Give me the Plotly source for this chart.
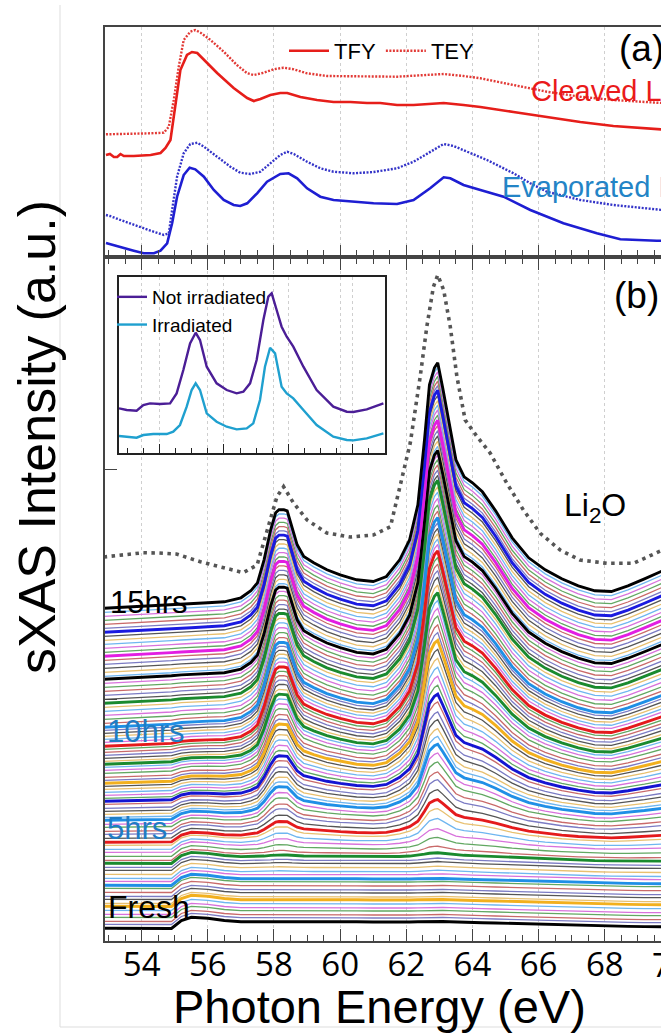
import plotly.graph_objects as go

# ---------------- panel (a) data ----------------
E_tfy_cl = [52.92, 53.04, 53.16, 53.26, 53.36, 53.46, 53.76, 54.27, 54.57, 54.72, 54.87, 55.02, 55.17, 55.37,
            55.52, 55.68, 55.88, 56.28, 56.78, 57.19, 57.39, 57.59, 57.89, 58.19, 58.40, 58.80, 59.30, 59.80,
            60.31, 60.81, 61.21, 61.72, 62.22, 62.72, 63.13, 63.73, 64.24, 65.24, 66.25, 67.26, 68.26, 69.57, 69.75]
I_tfy_cl = [1.00, 1.01, 0.98, 0.98, 1.01, 0.99, 0.99, 1.00, 1.02, 1.07, 1.15, 1.52, 1.85, 2.00,
            2.03, 2.02, 1.95, 1.82, 1.67, 1.57, 1.54, 1.56, 1.60, 1.62, 1.62, 1.58, 1.55, 1.53,
            1.53, 1.52, 1.52, 1.50, 1.50, 1.51, 1.52, 1.50, 1.48, 1.43, 1.38, 1.33, 1.29, 1.26, 1.255]

E_tey_cl = [52.92, 53.76, 54.27, 54.67, 54.82, 54.97, 55.12, 55.27, 55.47, 55.62, 55.78, 56.08, 56.48, 56.88,
            57.19, 57.39, 57.69, 57.99, 58.29, 58.60, 59.00, 59.60, 60.31, 61.21, 61.72, 62.22, 62.72, 63.13,
            63.73, 64.24, 65.24, 65.74, 66.25, 67.26, 68.26, 69.57, 69.75]
I_tey_cl = [1.207, 1.21, 1.217, 1.223, 1.283, 1.55, 1.883, 2.15, 2.233, 2.25, 2.223, 2.15, 2.033, 1.90,
            1.817, 1.80, 1.823, 1.857, 1.873, 1.857, 1.817, 1.79, 1.79, 1.783, 1.783, 1.793, 1.803, 1.81,
            1.79, 1.767, 1.70, 1.667, 1.633, 1.583, 1.55, 1.523, 1.52]

E_tfy_ev = [52.92, 53.04, 53.36, 53.76, 54.06, 54.37, 54.57, 54.77, 54.92, 55.07, 55.27, 55.45, 55.62, 55.88,
            56.18, 56.48, 56.78, 56.98, 57.19, 57.49, 57.79, 58.19, 58.44, 58.70, 59.00, 59.40, 59.80, 60.41,
            61.01, 61.72, 62.22, 62.72, 63.13, 63.33, 63.73, 64.24, 64.94, 65.75, 66.75, 67.76, 68.47, 69.57, 69.75]
I_tfy_ev = [0.12, 0.11, 0.083, 0.043, 0.017, 0.017, 0.043, 0.117, 0.317, 0.583, 0.80, 0.873, 0.857, 0.783,
            0.65, 0.55, 0.50, 0.49, 0.517, 0.617, 0.733, 0.81, 0.817, 0.767, 0.667, 0.583, 0.55, 0.533,
            0.517, 0.51, 0.55, 0.667, 0.777, 0.767, 0.70, 0.65, 0.583, 0.45, 0.317, 0.217, 0.157, 0.143, 0.143]

E_tey_ev = [52.92, 53.04, 53.36, 53.76, 54.27, 54.67, 54.82, 54.92, 55.07, 55.27, 55.47, 55.68, 55.88, 56.28,
            56.68, 56.98, 57.29, 57.59, 57.89, 58.19, 58.40, 58.60, 59.00, 59.40, 59.80, 60.41, 61.01, 61.72,
            62.22, 62.72, 63.13, 63.43, 63.83, 64.44, 65.24, 65.75, 66.25, 67.26, 68.26, 69.57, 69.75]
I_tey_ev = [0.40, 0.39, 0.35, 0.30, 0.243, 0.20, 0.217, 0.45, 0.783, 1.017, 1.11, 1.123, 1.083, 0.983,
            0.883, 0.823, 0.81, 0.833, 0.917, 1.00, 1.033, 1.01, 0.933, 0.867, 0.833, 0.817, 0.83, 0.867,
            0.933, 1.033, 1.11, 1.09, 1.033, 0.95, 0.817, 0.717, 0.633, 0.55, 0.50, 0.457, 0.45]

# ---------------- inset data ----------------
E_not = [53.44, 53.92, 54.54, 54.96, 55.38, 56.0, 56.63, 57.04, 57.46, 57.88, 58.23, 58.5, 58.92, 59.54, 60.17,
         60.79, 61.21, 61.63, 62.04, 62.46, 62.77, 62.98, 63.29, 63.6, 63.92, 64.33, 64.96, 65.79, 66.83, 67.67,
         68.08, 68.92, 69.96]
I_not = [1.33, 1.28, 1.26, 1.43, 1.48, 1.46, 1.48, 1.78, 2.48, 3.28, 3.60, 3.38, 2.58, 2.08, 1.88,
         1.78, 1.83, 2.08, 2.78, 3.98, 4.68, 4.78, 4.28, 3.78, 3.48, 3.18, 2.58, 1.88, 1.38, 1.23,
         1.22, 1.30, 1.48]
E_irr = [53.44, 53.92, 54.54, 54.96, 55.58, 56.42, 56.83, 57.25, 57.67, 57.98, 58.23, 58.5, 58.92, 59.54, 60.17,
         60.79, 61.42, 61.83, 62.25, 62.56, 62.88, 63.19, 63.6, 63.92, 64.33, 64.96, 65.79, 66.83, 67.67, 68.08,
         68.92, 69.96]
I_irr = [0.50, 0.48, 0.45, 0.53, 0.56, 0.56, 0.63, 0.83, 1.38, 1.88, 2.08, 1.88, 1.18, 0.93, 0.78,
         0.70, 0.73, 0.88, 1.58, 2.58, 3.15, 2.98, 1.98, 1.78, 1.63, 1.28, 0.83, 0.48, 0.38, 0.37,
         0.43, 0.58]

# ---------------- panel (b) data ----------------
E_b = [52.85, 53.5, 54.0, 54.5, 54.9, 55.2, 55.5, 56.0, 56.5, 57.0, 57.3, 57.5, 57.7, 57.9, 58.05, 58.15, 58.3,
       58.4, 58.55, 58.7, 58.9, 59.2, 59.6, 60.0, 60.5, 61.0, 61.4, 61.8, 62.1, 62.35, 62.55, 62.7, 62.85, 62.95,
       63.1, 63.3, 63.5, 63.75, 64.0, 64.3, 64.7, 65.2, 65.7, 66.2, 66.7, 67.2, 67.7, 68.2, 68.7, 69.2, 69.75]
fresh_b = [1.27, 1.27, 1.25, 1.22, 1.25, 2.05, 2.37, 2.27, 2.05, 1.93, 1.93, 1.93, 1.93, 1.95, 1.97, 1.98, 1.98,
           1.97, 1.95, 1.93, 1.93, 1.93, 1.93, 1.93, 1.92, 1.90, 1.88, 1.88, 1.90, 1.92, 1.94, 1.95, 1.96, 1.96,
           1.95, 1.93, 1.90, 1.88, 1.86, 1.83, 1.80, 1.75, 1.70, 1.65, 1.60, 1.56, 1.52, 1.49, 1.46, 1.44, 1.43]
final_b = [33.25, 33.35, 33.43, 33.55, 33.63, 33.67, 33.70, 33.80, 33.90, 34.30, 35.00, 35.80, 38.10, 41.10,
           42.80, 43.10, 43.10, 43.00, 41.30, 39.60, 38.43, 37.80, 37.10, 36.60, 36.10, 35.93, 36.43, 38.10,
           40.10, 43.60, 50.10, 55.60, 57.30, 57.80, 55.30, 51.60, 48.10, 46.40, 45.80, 44.90, 43.00, 40.30,
           38.30, 37.10, 36.20, 35.50, 35.00, 34.93, 35.50, 36.20, 37.00]
# per-scan vertical offset (stacking) and Li2O-like growth fraction, 91 scans (every 10 min, 0-15 h)
scan_shift = [0.0, 0.4, 0.7, 1.1, 1.4, 1.8, 2.2, 2.5, 2.9, 3.2,
              3.6, 4.0, 4.3, 4.7, 5.0, 5.4, 5.8, 6.1, 6.5, 6.8,
              7.2, 7.6, 7.9, 8.3, 8.6, 9.0, 9.4, 9.7, 10.1, 10.4,
              10.8, 11.1, 11.4, 11.7, 12.0, 12.4, 12.7, 13.0, 13.3, 13.6,
              13.9, 14.2, 14.5, 14.8, 15.1, 15.5, 15.8, 16.1, 16.4, 16.7,
              17.0, 17.3, 17.6, 17.9, 18.2, 18.6, 18.9, 19.2, 19.5, 19.8,
              20.1, 20.5, 20.9, 21.3, 21.7, 22.1, 22.5, 22.9, 23.3, 23.7,
              24.1, 24.5, 24.9, 25.2, 25.6, 26.0, 26.4, 26.8, 27.2, 27.6,
              28.0, 28.4, 28.8, 29.2, 29.6, 30.0, 30.4, 30.8, 31.2, 31.6,
              32.0]
scan_growth = [0, 0, 0, 0, 0, 0, 0, 0, 0, 0,
               0, 0, 0, 0.003, 0.005, 0.005, 0.008, 0.01, 0.015, 0.03,
               0.05, 0.07, 0.10, 0.125, 0.15, 0.175, 0.20, 0.22, 0.245, 0.27,
               0.29, 0.31, 0.33, 0.355, 0.375, 0.40, 0.42, 0.445, 0.47, 0.495,
               0.52, 0.545, 0.57, 0.59, 0.61, 0.63, 0.65, 0.67, 0.69, 0.71,
               0.73, 0.745, 0.76, 0.775, 0.79, 0.80, 0.81, 0.82, 0.83, 0.84,
               0.85, 0.86, 0.87, 0.88, 0.89, 0.895, 0.905, 0.91, 0.915, 0.92,
               0.925, 0.928, 0.93, 0.935, 0.94, 0.945, 0.95, 0.955, 0.96, 0.965,
               0.97, 0.973, 0.976, 0.98, 0.985, 0.988, 0.99, 0.993, 0.996, 0.998,
               1.0]
E_li2o = [52.85, 53.5, 54.05, 54.5, 55.05, 55.77, 56.47, 57.07, 57.49, 57.79, 58.09, 58.29, 58.59, 59.0, 59.6,
          60.31, 61.0, 61.52, 61.72, 62.12, 62.42, 62.62, 62.82, 62.95, 63.13, 63.33, 63.53, 63.78, 64.14, 64.54,
          65.04, 65.54, 66.05, 66.65, 67.25, 68.06, 68.87, 69.57, 69.75]
I_li2o = [38.40, 38.60, 38.83, 38.80, 38.70, 37.93, 37.30, 36.83, 37.60, 41.10, 44.43, 45.43, 43.80, 42.10, 40.80,
          40.40, 40.60, 41.43, 44.10, 49.80, 56.43, 61.43, 65.43, 66.60, 65.10, 61.43, 56.43, 52.10, 50.43, 48.77,
          45.77, 43.10, 40.77, 39.10, 38.10, 37.77, 37.77, 38.77, 39.10]

hour_colors = ['#000000', '#f2b01e', '#1f8fe6', '#1a8a2e', '#e41a1c', '#1f8fe6', '#1414d2', '#f2b01e',
               '#1a8a2e', '#e41a1c', '#1f8fe6', '#1a8a2e', '#000000', '#e21ee2', '#1a1ae0', '#000000']
thin_colors = ['#7b7bc4', '#c96a6a', '#62a862', '#d872dc', '#6fb6f0', '#e8c070', '#555555']

# ---------------- figure ----------------
W, H = 661, 1034
def fx(p):
    return p / W
def fy(p):
    return 1 - p / H

fig = go.Figure()

RED, BLUE = '#e61e1a', '#1e1ed2'
fig.add_trace(go.Scatter(x=E_tfy_cl, y=I_tfy_cl, xaxis='x2', yaxis='y2', mode='lines', name='TFY',
                         line=dict(color=RED, width=2.6), legend='legend'))
fig.add_trace(go.Scatter(x=E_tey_cl, y=I_tey_cl, xaxis='x2', yaxis='y2', mode='lines', name='TEY',
                         line=dict(color='#e23a36', width=2.4, dash='2px,1.5px'), legend='legend'))
fig.add_trace(go.Scatter(x=E_tfy_ev, y=I_tfy_ev, xaxis='x2', yaxis='y2', mode='lines', showlegend=False,
                         line=dict(color=BLUE, width=2.6)))
fig.add_trace(go.Scatter(x=E_tey_ev, y=I_tey_ev, xaxis='x2', yaxis='y2', mode='lines', showlegend=False,
                         line=dict(color='#3434c8', width=2.4, dash='2px,1.5px')))

# stacked scans
n_scan = len(scan_shift)
comp = [f - r - (final_b[0] - fresh_b[0]) for f, r in zip(final_b, fresh_b)]
curves = []
for i in range(n_scan):
    curves.append([r + scan_shift[i] + scan_growth[i] * c for r, c in zip(fresh_b, comp)])
j = 0
for i in range(n_scan):
    if i % 6 != 0:
        fig.add_trace(go.Scatter(x=E_b, y=curves[i], mode='lines', showlegend=False, hoverinfo='skip',
                                 line=dict(color=thin_colors[j % len(thin_colors)], width=1.3)))
        j += 1
for i in range(0, n_scan, 6):
    fig.add_trace(go.Scatter(x=E_b, y=curves[i], mode='lines', showlegend=False, hoverinfo='skip',
                             line=dict(color=hour_colors[i // 6], width=2.9)))
fig.add_trace(go.Scatter(x=E_li2o, y=I_li2o, mode='lines', showlegend=False,
                         line=dict(color='#555555', width=3.6, dash='3.5px,4.5px')))

# inset
fig.add_trace(go.Scatter(x=E_not, y=I_not, xaxis='x3', yaxis='y3', mode='lines', name='Not irradiated',
                         line=dict(color='#4b1e96', width=2.4), legend='legend2'))
fig.add_trace(go.Scatter(x=E_irr, y=I_irr, xaxis='x3', yaxis='y3', mode='lines', name='Irradiated',
                         line=dict(color='#1fa0cf', width=2.4), legend='legend2'))

AX = '#444444'
GRID = dict(showgrid=True, gridcolor='#cfcfcf', griddash='dot', gridwidth=1)
XR = [52.876, 69.70]
xdom = [fx(104.5), 1.0]

fig.update_layout(
    width=W, height=H, margin=dict(l=0, r=0, t=0, b=0, autoexpand=False),
    paper_bgcolor='white', plot_bgcolor='rgba(0,0,0,0)',
    font=dict(family='Liberation Sans, Arial, sans-serif', color='black'),
    xaxis=dict(domain=xdom, range=XR, anchor='y', tick0=0, dtick=2, ticks='inside', ticklen=12, tickwidth=1.2,
               tickcolor=AX, minor=dict(tick0=0, dtick=0.5, ticks='inside', ticklen=6, tickcolor=AX, showgrid=False),
               showline=True, linecolor=AX, linewidth=1.5, mirror='ticks', zeroline=False, automargin=False,
               tickfont=dict(family='Open Sans', size=33, color='black'), ticklabelstandoff=-6, **GRID),
    yaxis=dict(domain=[fy(941), fy(258.5)], range=[0, 68.25], anchor='x', showline=True, linecolor=AX, linewidth=1.5,
               ticks='inside', tick0=1.2, dtick=23, ticklen=13, tickcolor=AX, showticklabels=False,
               showgrid=False, zeroline=False, automargin=False),
    xaxis2=dict(domain=xdom, range=XR, anchor='y2', tick0=0, dtick=2, ticks='inside', ticklen=10, tickcolor=AX,
                minor=dict(tick0=0, dtick=0.5, ticks='inside', ticklen=5, tickcolor=AX, showgrid=False),
                showticklabels=False, showline=True, linecolor=AX, linewidth=1.5, mirror=True, zeroline=False,
                automargin=False, **GRID),
    yaxis2=dict(domain=[fy(255), fy(26.7)], range=[0, 2.283], anchor='x2', showline=True, linecolor=AX, linewidth=1.5,
                ticks='', showticklabels=False, showgrid=False, zeroline=False, automargin=False),
    xaxis3=dict(domain=[fx(119), fx(385)], range=[53.44, 70.06], anchor='y3', tick0=0, dtick=4, ticks='inside',
                ticklen=9, tickcolor='#222', minor=dict(tick0=0, dtick=1, ticks='inside', ticklen=5, tickcolor='#222',
                                                         showgrid=False),
                showticklabels=False, showline=True, linecolor='#222', linewidth=1.5, mirror=True, zeroline=False,
                automargin=False, **GRID),
    yaxis3=dict(domain=[fy(452.7), fy(276.7)], range=[0, 5.28], anchor='x3', showline=True, linecolor='#222',
                linewidth=1.5, mirror=True, ticks='', showticklabels=False, showgrid=False, zeroline=False,
                automargin=False),
    legend=dict(orientation='h', x=fx(284), y=fy(30), xanchor='left', yanchor='top', bgcolor='rgba(0,0,0,0)',
                font=dict(size=22, family='Liberation Sans, Arial'), itemwidth=40, traceorder='normal'),
    legend2=dict(x=fx(112), y=fy(278), xanchor='left', yanchor='top', bgcolor='rgba(0,0,0,0)',
                 font=dict(size=19, family='Liberation Sans, Arial'), tracegroupgap=0, itemwidth=30),
)

LBLUE = '#1f7cc4'
ann = [
    dict(text='(a)', x=fx(617), y=fy(48), xanchor='left', font=dict(size=37)),
    dict(text='(b)', x=fx(612), y=fy(296), xanchor='left', font=dict(size=37)),
    dict(text='Cleaved Li', x=fx(529), y=fy(91), xanchor='left', font=dict(size=29, color='#ea1a1a')),
    dict(text='Evaporated Li', x=fx(500), y=fy(187), xanchor='left', font=dict(size=29, color='#2384c6')),
    dict(text='Li<sub>2</sub>O', x=fx(562), y=fy(507), xanchor='left', font=dict(size=32)),
    dict(text='15hrs', x=fx(108), y=fy(602), xanchor='left', font=dict(size=31)),
    dict(text='10hrs', x=fx(105), y=fy(731), xanchor='left', font=dict(size=31, color=LBLUE)),
    dict(text='5hrs', x=fx(105), y=fy(828), xanchor='left', font=dict(size=31, color=LBLUE)),
    dict(text='Fresh', x=fx(106), y=fy(907), xanchor='left', font=dict(size=32)),
    dict(text='Photon Energy (eV)', x=fx(380), y=fy(1006), xanchor='center', font=dict(size=47)),
    dict(text='sXAS Intensity (a.u.)', x=fx(37), y=fy(437), xanchor='center', textangle=-90, font=dict(size=52)),
    dict(text='70', x=fx(671), y=fy(964), xanchor='center', font=dict(family='Open Sans', size=33)),
]
for a in ann:
    a.update(xref='paper', yref='paper', yanchor='middle', showarrow=False)
fig.update_layout(annotations=ann)

fig.add_shape(type='line', xref='paper', yref='paper', x0=fx(60), x1=fx(60), y0=fy(1027), y1=fy(5),
              line=dict(color='#dddddd', width=1), layer='below')
fig.add_shape(type='line', xref='paper', yref='paper', x0=fx(60), x1=1.0, y0=fy(1027), y1=fy(1027),
              line=dict(color='#dddddd', width=1), layer='below')

fig.write_html('out.html', config={'displayModeBar': False},
               post_script="document.body.style.margin='0';document.body.style.overflow='hidden';")
